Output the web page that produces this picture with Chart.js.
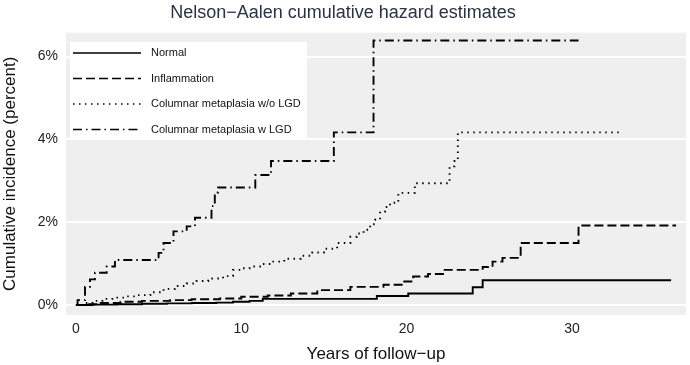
<!DOCTYPE html>
<html>
<head>
<meta charset="utf-8">
<script src="https://cdn.jsdelivr.net/npm/chart.js@4"></script>
<style>
  html, body { margin: 0; padding: 0; background: #fff; }
  #wrap { width: 690px; height: 365px; position: relative; }
</style>
</head>
<body>
<div id="wrap"><canvas id="hazardChart" width="690" height="365"></canvas></div>
<script>
// series names
const seriesNames = ["Normal", "Inflammation", "Columnar metaplasia w/o LGD", "Columnar metaplasia w LGD"];

// step points: years, cumulative hazard (percent)
const normalYears = [0, 1, 2.5, 4, 5.5, 7, 8.5, 9.5, 10.5, 11.3, 18.2, 20.1, 24.0, 24.6, 36.0];
const normalPct   = [0, 0.01, 0.02, 0.03, 0.04, 0.05, 0.06, 0.08, 0.1, 0.15, 0.22, 0.28, 0.43, 0.6, 0.6];

const inflamYears = [0, 0.5, 1.5, 2.7, 4, 5.7, 7, 8.7, 10, 11.6, 13, 14.6, 16.6, 18.6, 19.8, 20.4, 21.3, 22.2, 24.6, 25.2, 25.8, 26.9, 30.4, 36.3];
const inflamPct   = [0, 0.02, 0.05, 0.08, 0.1, 0.12, 0.14, 0.16, 0.2, 0.23, 0.28, 0.36, 0.44, 0.49, 0.57, 0.69, 0.75, 0.85, 0.92, 1.05, 1.14, 1.5, 1.92, 1.92];

const cmNoLgdYears = [0, 0.5, 1.0, 1.6, 2.2, 3.0, 3.7, 4.5, 5.3, 6.0, 6.7, 7.3, 8.0, 8.9, 9.5, 10.0, 10.5, 11.2, 11.8, 12.6, 13.6, 14.3, 15.0, 15.8, 16.6, 17.0, 17.4, 17.8, 18.1, 18.4, 18.7, 19.0, 19.5, 20.5, 22.6, 22.9, 23.1, 33.1];
const cmNoLgdPct   = [0, 0.05, 0.1, 0.15, 0.18, 0.21, 0.24, 0.31, 0.39, 0.46, 0.52, 0.58, 0.64, 0.7, 0.85, 0.89, 0.93, 0.99, 1.05, 1.12, 1.19, 1.27, 1.36, 1.5, 1.65, 1.73, 1.82, 1.95, 2.06, 2.26, 2.37, 2.47, 2.71, 2.94, 3.35, 3.48, 4.17, 4.17];

const cmLgdYears = [0, 0.1, 0.55, 0.85, 1.15, 1.86, 2.36, 4.9, 5.0, 5.3, 5.9, 6.7, 7.2, 8.2, 8.4, 8.6, 10.85, 11.8, 15.6, 18.0, 30.4];
const cmLgdPct   = [0, 0.12, 0.44, 0.62, 0.78, 0.93, 1.09, 1.09, 1.26, 1.5, 1.78, 1.9, 2.11, 2.39, 2.72, 2.84, 3.14, 3.48, 4.17, 6.39, 6.39];

// axis ticks
const xTicks = [0, 10, 20, 30];
const yTicks = [0, 2, 4, 6];

const dashes = [[], [9, 4], [1.5, 4.5], [9, 4, 1.5, 4]];

function toPoints(xs, ys) {
    return xs.map((x, i) => ({ x: x, y: ys[i] }));
}

const seriesData = [
    toPoints(normalYears, normalPct),
    toPoints(inflamYears, inflamPct),
    toPoints(cmNoLgdYears, cmNoLgdPct),
    toPoints(cmLgdYears, cmLgdPct)
];

/* ===================== PLUGINS ===================== */
const panelBg = {
    id: "panelBg",
    beforeDraw(chart) {
        const a = chart.chartArea;
        const ctx = chart.ctx;
        ctx.save();
        ctx.fillStyle = "#efefef";
        ctx.fillRect(a.left, a.top, a.right - a.left, a.bottom - a.top);
        ctx.restore();
    }
};

const boxLegend = {
    id: "boxLegend",
    afterDatasetsDraw(chart) {
        const ctx = chart.ctx;
        const left = 70, top = 42, w = 237, h = 96;
        ctx.save();
        ctx.fillStyle = "#ffffff";
        ctx.fillRect(left, top, w, h);
        ctx.font = "11px 'Liberation Sans', Arial, sans-serif";
        ctx.textBaseline = "middle";
        seriesNames.forEach((name, i) => {
            const y = top + 11 + i * 25.5;
            ctx.strokeStyle = "#000";
            ctx.lineWidth = 1.7;
            ctx.setLineDash(dashes[i]);
            ctx.beginPath();
            ctx.moveTo(73, y);
            ctx.lineTo(141, y);
            ctx.stroke();
            ctx.setLineDash([]);
            ctx.fillStyle = "#111";
            ctx.fillText(name, 151, y);
        });
        ctx.restore();
    }
};

/* ===================== CHART ===================== */
const ctx = document.getElementById("hazardChart").getContext("2d");

new Chart(ctx, {
    type: "line",
    data: {
        datasets: seriesNames.map((name, i) => ({
            label: name,
            data: seriesData[i],
            stepped: "before",
            borderColor: "#000",
            borderWidth: 1.9,
            borderDash: dashes[i],
            pointRadius: 0,
            fill: false
        }))
    },
    options: {
        responsive: false,
        animation: false,
        layout: { padding: { left: 0, right: 4, top: 0, bottom: 0 } },
        plugins: {
            legend: { display: false },
            tooltip: { enabled: false },
            title: {
                display: true,
                text: "Nelson\u2212Aalen cumulative hazard estimates",
                color: "#2b3245",
                font: { family: "'Liberation Sans', Arial, sans-serif", size: 18, weight: "normal" },
                padding: { top: 2, bottom: 9 }
            }
        },
        scales: {
            x: {
                type: "linear",
                min: -0.6,
                max: 36.9,
                afterBuildTicks(axis) {
                    axis.ticks = xTicks.map(v => ({ value: v }));
                },
                grid: { display: false, drawTicks: false },
                border: { display: false },
                ticks: {
                    color: "#222",
                    padding: 6,
                    font: { family: "'Liberation Sans', Arial, sans-serif", size: 14 }
                },
                title: {
                    display: true,
                    text: "Years of follow\u2212up",
                    color: "#111",
                    font: { family: "'Liberation Sans', Arial, sans-serif", size: 17 },
                    padding: { top: 2, bottom: 0 }
                },
                afterFit(axis) { axis.height = 50; }
            },
            y: {
                type: "linear",
                min: -0.24,
                max: 6.58,
                afterBuildTicks(axis) {
                    axis.ticks = yTicks.map(v => ({ value: v }));
                },
                grid: { color: "#ffffff", lineWidth: 2, drawTicks: false },
                border: { display: false },
                ticks: {
                    color: "#222",
                    padding: 8,
                    callback: v => v + "%",
                    font: { family: "'Liberation Sans', Arial, sans-serif", size: 14 }
                },
                title: {
                    display: true,
                    text: "Cumulative incidence (percent)",
                    color: "#111",
                    font: { family: "'Liberation Sans', Arial, sans-serif", size: 17 },
                    padding: { top: 0, bottom: 4 }
                },
                afterFit(axis) { axis.width = 66; }
            }
        }
    },
    plugins: [panelBg, boxLegend]
});
</script>
</body>
</html>
